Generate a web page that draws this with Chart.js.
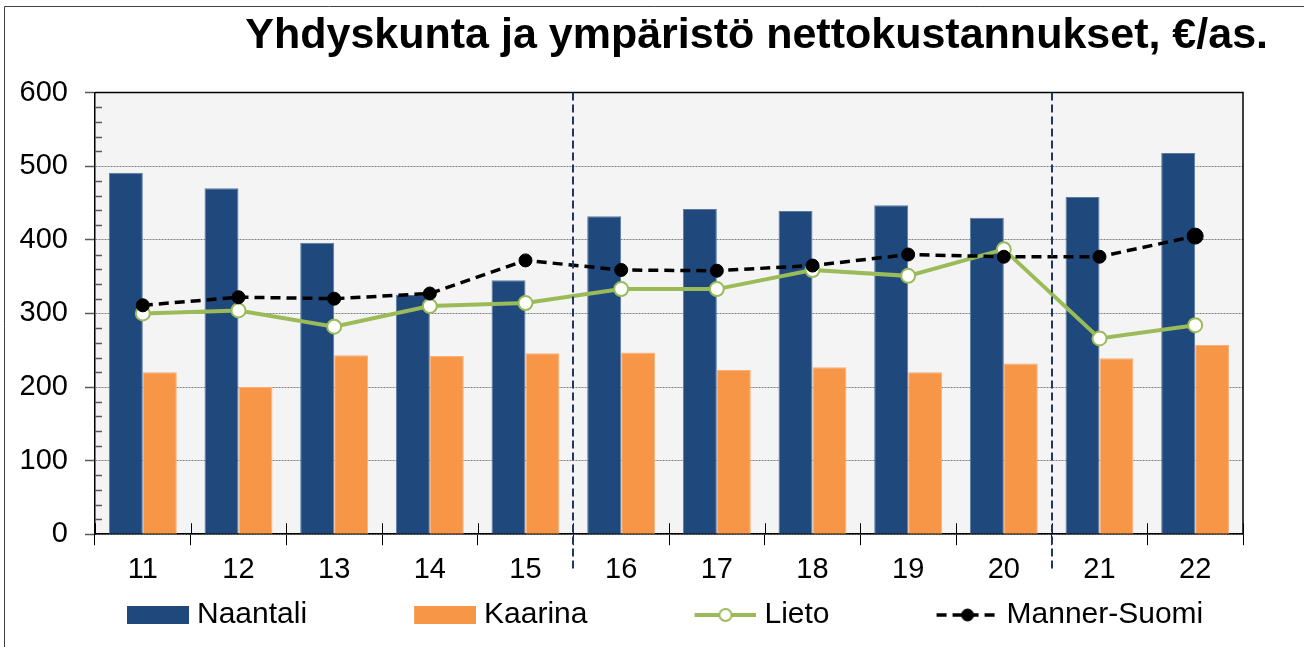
<!DOCTYPE html>
<html>
<head>
<meta charset="utf-8">
<script src="https://cdn.jsdelivr.net/npm/chart.js@4/dist/chart.umd.min.js"></script>
<style>
  html, body { margin: 0; padding: 0; background: #fff; }
  canvas { display: block; }
</style>
</head>
<body>
<canvas id="chart" width="1304" height="647"></canvas>
<script>
// Data
const categories = ['11', '12', '13', '14', '15', '16', '17', '18', '19', '20', '21', '22'];
const naantali = [491, 470, 396, 325, 345, 432, 442, 439, 447, 430, 458, 518];
const kaarina = [220, 200, 243, 242, 246, 247, 223, 227, 220, 232, 239, 257];
const lieto = [300, 304, 282, 310, 314, 333, 333, 359, 351, 387, 266, 284];
const mannerSuomi = [311, 322, 320, 327, 372, 359, 358, 365, 380, 377, 377, 405];
const separatorsAfter = ['15', '20'];
const yTicks = [0, 100, 200, 300, 400, 500, 600];

const FONT = "'Liberation Sans', Arial, sans-serif";

// legend swatch drawn into a small canvas, used as the point style
function legendSwatch(ds) {
    const c = document.createElement('canvas');
    c.width = 170;
    c.height = 24;
    const g = c.getContext('2d');
    const x0 = 108, w = 62, cy = 12;
    if (ds.type === 'line') {
        g.strokeStyle = ds.borderColor;
        g.lineWidth = ds.borderWidth;
        g.setLineDash(ds.borderDash || []);
        g.beginPath();
        g.moveTo(x0, cy);
        g.lineTo(x0 + w, cy);
        g.stroke();
        g.setLineDash([]);
        g.beginPath();
        g.arc(x0 + w / 2, cy, 6, 0, Math.PI * 2);
        g.fillStyle = ds.pointBackgroundColor;
        g.fill();
        g.lineWidth = ds.pointBorderWidth;
        g.strokeStyle = ds.pointBorderColor;
        g.stroke();
    } else {
        g.fillStyle = ds.backgroundColor;
        g.fillRect(x0, cy - 9, w, 18);
    }
    return c;
}

const decor = {
    id: 'decor',
    beforeDraw(chart) {
        const { ctx, chartArea: a } = chart;
        ctx.save();
        ctx.fillStyle = '#F4F4F4';
        ctx.fillRect(a.left, a.top, a.right - a.left, a.bottom - a.top);
        ctx.restore();
    },
    afterDraw(chart) {
        const { ctx, chartArea: a, scales } = chart;
        const x = scales.x, y = scales.y;
        ctx.save();
        // outer frame (left and top)
        ctx.strokeStyle = '#404040';
        ctx.lineWidth = 1;
        ctx.beginPath();
        ctx.moveTo(4.5, chart.height);
        ctx.lineTo(4.5, 6.5);
        ctx.lineTo(chart.width, 6.5);
        ctx.stroke();
        // plot top and right edges
        ctx.strokeStyle = '#000';
        ctx.lineWidth = 1.5;
        ctx.beginPath();
        ctx.moveTo(a.left, a.top);
        ctx.lineTo(a.right, a.top);
        ctx.lineTo(a.right, a.bottom);
        ctx.stroke();
        // minor y ticks inside the plot
        ctx.strokeStyle = '#595959';
        ctx.lineWidth = 1.5;
        for (let v = y.min + 20; v < y.max; v += 20) {
            if (v % 100 === 0) continue;
            const py = Math.round(y.getPixelForValue(v)) + 0.5;
            ctx.beginPath();
            ctx.moveTo(a.left, py);
            ctx.lineTo(a.left + 7, py);
            ctx.stroke();
        }
        // x ticks crossing into the plot
        ctx.strokeStyle = '#000';
        ctx.lineWidth = 1;
        for (let i = 0; i <= categories.length; i++) {
            const px = i === 0 ? a.left : (i === categories.length ? a.right
                : (x.getPixelForValue(i - 1) + x.getPixelForValue(i)) / 2);
            ctx.beginPath();
            ctx.moveTo(Math.round(px) + 0.5, a.bottom);
            ctx.lineTo(Math.round(px) + 0.5, a.bottom - 11);
            ctx.stroke();
        }
        // dashed separators between periods
        ctx.strokeStyle = '#1F3864';
        ctx.lineWidth = 2;
        ctx.setLineDash([8, 4]);
        separatorsAfter.forEach(cat => {
            const i = categories.indexOf(cat);
            const px = Math.round((x.getPixelForValue(i) + x.getPixelForValue(i + 1)) / 2);
            ctx.beginPath();
            ctx.moveTo(px, a.top);
            ctx.lineTo(px, a.bottom + 38);
            ctx.stroke();
        });
        ctx.restore();
    }
};

new Chart(document.getElementById('chart').getContext('2d'), {
    type: 'bar',
    data: {
        labels: categories,
        datasets: [
            {
                label: 'Naantali',
                data: naantali,
                backgroundColor: '#1F497D',
                borderColor: '#5B7BA3',
                borderWidth: 1,
                categoryPercentage: 0.71,
                barPercentage: 1,
                order: 2
            },
            {
                label: 'Kaarina',
                data: kaarina,
                backgroundColor: '#F79646',
                borderColor: '#F9B07A',
                borderWidth: 1,
                categoryPercentage: 0.71,
                barPercentage: 1,
                order: 2
            },
            {
                type: 'line',
                label: 'Lieto',
                data: lieto,
                borderColor: '#9BBB59',
                borderWidth: 4,
                pointBackgroundColor: '#FFFFFF',
                pointBorderColor: '#9BBB59',
                pointBorderWidth: 2,
                pointRadius: 7,
                tension: 0,
                fill: false,
                order: 1
            },
            {
                type: 'line',
                label: 'Manner-Suomi',
                data: mannerSuomi,
                borderColor: '#000000',
                borderWidth: 3.5,
                borderDash: [10, 6],
                pointBackgroundColor: '#000000',
                pointBorderColor: '#000000',
                pointBorderWidth: 1,
                pointRadius: [6.5, 6.5, 6.5, 6.5, 6.5, 6.5, 6.5, 6.5, 6.5, 6.5, 6.5, 8],
                tension: 0,
                fill: false,
                order: 0
            }
        ]
    },
    options: {
        responsive: false,
        animation: false,
        devicePixelRatio: 1,
        layout: {
            padding: { top: 0, bottom: 7, left: 20, right: 36 }
        },
        scales: {
            x: {
                offset: true,
                grid: {
                    offset: true,
                    drawOnChartArea: false,
                    tickLength: 11,
                    tickColor: '#000',
                    tickWidth: 1
                },
                border: { color: '#000', width: 1.5 },
                ticks: {
                    color: '#000',
                    padding: 7,
                    font: { size: 29, family: FONT }
                }
            },
            y: {
                min: 0,
                max: 600,
                afterBuildTicks(scale) {
                    scale.ticks = yTicks.map(v => ({ value: v }));
                },
                afterFit(scale) { scale.width = 75; },
                grid: {
                    color: '#808080',
                    lineWidth: 1,
                    tickLength: 10,
                    tickColor: '#595959',
                    tickWidth: 1.5
                },
                border: { color: '#000', width: 1.5, dash: [2, 1] },
                ticks: {
                    color: '#000',
                    padding: 17,
                    font: { size: 29, family: FONT }
                }
            },
            y2: {
                position: 'right',
                grid: { display: false },
                border: { display: false },
                ticks: { display: false },
                afterFit(scale) { scale.width = 25; }
            }
        },
        plugins: {
            title: {
                display: true,
                text: 'Yhdyskunta ja ympäristö nettokustannukset, €/as.',
                align: 'end',
                color: '#000',
                font: { size: 43, weight: 'bold', family: FONT },
                padding: { top: 10, bottom: 31 }
            },
            legend: {
                position: 'bottom',
                align: 'start',
                labels: {
                    usePointStyle: true,
                    pointStyleWidth: 156,
                    boxHeight: 24,
                    padding: 6,
                    color: '#000',
                    font: { size: 30, family: FONT },
                    generateLabels(chart) {
                        return chart.data.datasets.map((ds, i) => ({
                            text: ds.label,
                            pointStyle: legendSwatch(ds),
                            datasetIndex: i,
                            hidden: false,
                            fillStyle: 'transparent',
                            strokeStyle: 'transparent',
                            lineWidth: 0,
                            fontColor: '#000'
                        }));
                    }
                }
            },
            tooltip: { enabled: false }
        }
    },
    plugins: [decor]
});
</script>
</body>
</html>
